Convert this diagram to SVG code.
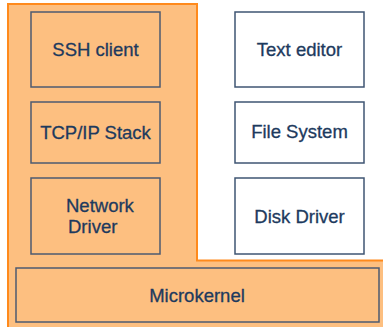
<svg xmlns="http://www.w3.org/2000/svg" width="383" height="327" viewBox="0 0 383 327">
<style>
.box{fill:none;stroke:#4d5b70;stroke-width:1.5}
.wbox{fill:#ffffff;stroke:#3f5573;stroke-width:1.5}
text{font-family:"Liberation Sans",Arial,sans-serif;font-size:18.5px;fill:#1d3a5e;stroke:#1d3a5e;stroke-width:0.3;text-anchor:middle}
</style>
<rect width="383" height="327" fill="#ffffff"/>
<polygon points="8,4 197,4 197,260.5 385,260.5 385,329 8,329" fill="#fdbf80" stroke="#ff8a1c" stroke-width="2"/>
<g id="ssh"><rect class="box" x="31" y="12" width="129" height="75"/><text x="95.5" y="56">SSH client</text></g>
<g id="tcp"><rect class="box" x="31" y="102" width="129" height="61"/><text x="95.5" y="139">TCP/IP Stack</text></g>
<g id="net"><rect class="box" x="31" y="178" width="129" height="76"/><text x="66" y="212" style="text-anchor:start">Network</text><text x="68" y="233" style="text-anchor:start">Driver</text></g>
<g id="editor"><rect class="wbox" x="235" y="12" width="129" height="75"/><text x="299.5" y="56">Text editor</text></g>
<g id="fs"><rect class="wbox" x="235" y="102" width="129" height="61"/><text x="299.5" y="138">File System</text></g>
<g id="disk"><rect class="wbox" x="235" y="178" width="129" height="76"/><text x="299.5" y="223">Disk Driver</text></g>
<g id="microkernel"><rect class="box" x="16" y="268" width="363" height="54"/><text x="197" y="302">Microkernel</text></g>
<g id="connectors"></g>
</svg>
